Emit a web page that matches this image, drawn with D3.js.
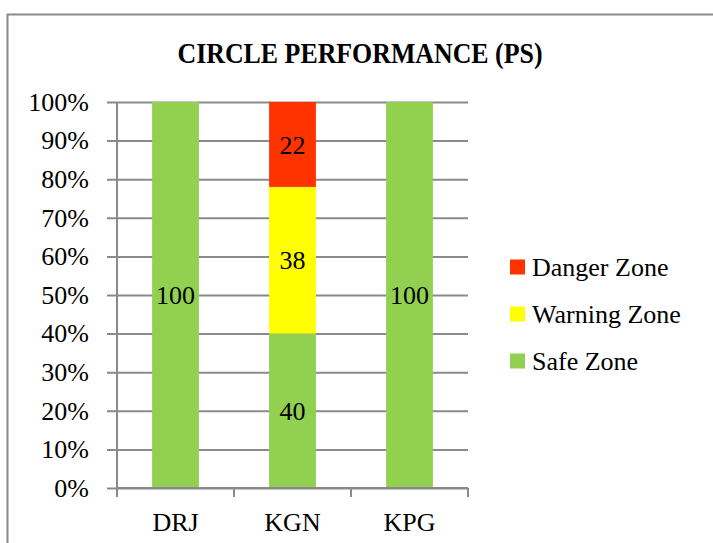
<!DOCTYPE html>
<html>
<head>
<meta charset="utf-8">
<script src="https://cdn.jsdelivr.net/npm/d3@7"></script>
<style>
  body { margin: 0; background: #fff; }
  text { font-family: "Liberation Serif", "DejaVu Serif", serif; fill: #000; }
</style>
</head>
<body>
<div id="chart"></div>
<script>
const w = 713;
const h = 543;

const categories = ['DRJ', 'KGN', 'KPG'];
const safeZone = [100, 40, 100];
const warningZone = [0, 38, 0];
const dangerZone = [0, 22, 0];
const seriesNames = ['Safe Zone', 'Warning Zone', 'Danger Zone'];
const seriesColors = ['#92d050', '#ffff00', '#ff3300'];
const yTicks = [0, 10, 20, 30, 40, 50, 60, 70, 80, 90, 100];

const rows = categories.map((c, i) => ({
  cat: c,
  'Safe Zone': safeZone[i],
  'Warning Zone': warningZone[i],
  'Danger Zone': dangerZone[i]
}));

const stacked = d3.stack().keys(seriesNames)(rows);

const plot = { left: 117, right: 468, top: 102, bottom: 488 };
const gridColor = '#8a8a8a';

const svg = d3.select('#chart')
  .append('svg')
  .attr('width', w)
  .attr('height', h);

// outer frame
svg.append('rect')
  .attr('x', 7.5)
  .attr('y', 14.5)
  .attr('width', 730)
  .attr('height', 560)
  .attr('fill', '#fff')
  .attr('stroke', gridColor)
  .attr('stroke-width', 2);

svg.append('text')
  .attr('x', 360)
  .attr('y', 63)
  .attr('text-anchor', 'middle')
  .attr('font-weight', 'bold')
  .attr('font-size', 30)
  .attr('textLength', 365)
  .attr('lengthAdjust', 'spacingAndGlyphs')
  .text('CIRCLE PERFORMANCE (PS)');

const x = d3.scaleBand()
  .domain(categories)
  .range([plot.left, plot.right])
  .paddingInner(0.6)
  .paddingOuter(0.3);

const y = d3.scaleLinear()
  .domain([0, 100])
  .range([plot.bottom, plot.top]);

// gridlines + y axis
const yAxis = d3.axisLeft(y)
  .tickValues(yTicks)
  .tickSize(-(plot.right - plot.left))
  .tickPadding(28)
  .tickFormat(d => d + '%');

const gy = svg.append('g')
  .attr('transform', 'translate(' + plot.left + ',0)')
  .call(yAxis);
gy.select('.domain').remove();
gy.selectAll('.tick line')
  .attr('stroke', gridColor)
  .attr('stroke-width', 2)
  .attr('x1', -10);
gy.selectAll('.tick text')
  .attr('font-size', 26)
  .attr('fill', '#000');

// bars
svg.selectAll('g.series')
  .data(stacked)
  .enter()
  .append('g')
  .attr('class', 'series')
  .attr('fill', (d, i) => seriesColors[i])
  .selectAll('rect')
  .data(d => d)
  .enter()
  .append('rect')
  .attr('x', d => x(d.data.cat))
  .attr('y', d => y(d[1]))
  .attr('width', x.bandwidth())
  .attr('height', d => y(d[0]) - y(d[1]));

// data labels
stacked.forEach(s => {
  svg.append('g')
    .selectAll('text')
    .data(s.filter(d => d[1] - d[0] > 0))
    .enter()
    .append('text')
    .attr('x', d => x(d.data.cat) + x.bandwidth() / 2)
    .attr('y', d => y((d[0] + d[1]) / 2))
    .attr('dy', '0.35em')
    .attr('text-anchor', 'middle')
    .attr('font-size', 26)
    .text(d => d[1] - d[0]);
});

// y axis line
svg.append('line')
  .attr('x1', plot.left).attr('x2', plot.left)
  .attr('y1', plot.top).attr('y2', plot.bottom)
  .attr('stroke', gridColor)
  .attr('stroke-width', 2);

// x axis
const xAxis = d3.axisBottom(x).tickSize(0).tickPadding(25);
const gx = svg.append('g')
  .attr('transform', 'translate(0,' + plot.bottom + ')')
  .call(xAxis);
gx.select('.domain')
  .attr('stroke', gridColor)
  .attr('stroke-width', 2)
  .attr('d', 'M' + plot.left + ',0H' + plot.right);
gx.selectAll('.tick text')
  .attr('font-size', 26)
  .attr('fill', '#000');

const bounds = categories.map(c => x(c) - x.step() * x.paddingOuter()).concat([plot.right]);
gx.selectAll('line.bound')
  .data(bounds)
  .enter()
  .append('line')
  .attr('class', 'bound')
  .attr('x1', d => d).attr('x2', d => d)
  .attr('y1', 0).attr('y2', 9)
  .attr('stroke', gridColor)
  .attr('stroke-width', 2);

// legend
const legendOrder = [2, 1, 0];
const legend = svg.append('g')
  .selectAll('g')
  .data(legendOrder)
  .enter()
  .append('g')
  .attr('transform', (d, i) => 'translate(510,' + (267 + i * 47) + ')');
legend.append('rect')
  .attr('x', 0).attr('y', -7.5)
  .attr('width', 15).attr('height', 15)
  .attr('fill', d => seriesColors[d]);
legend.append('text')
  .attr('x', 22)
  .attr('dy', '0.35em')
  .attr('font-size', 26)
  .text(d => seriesNames[d]);
</script>
</body>
</html>
